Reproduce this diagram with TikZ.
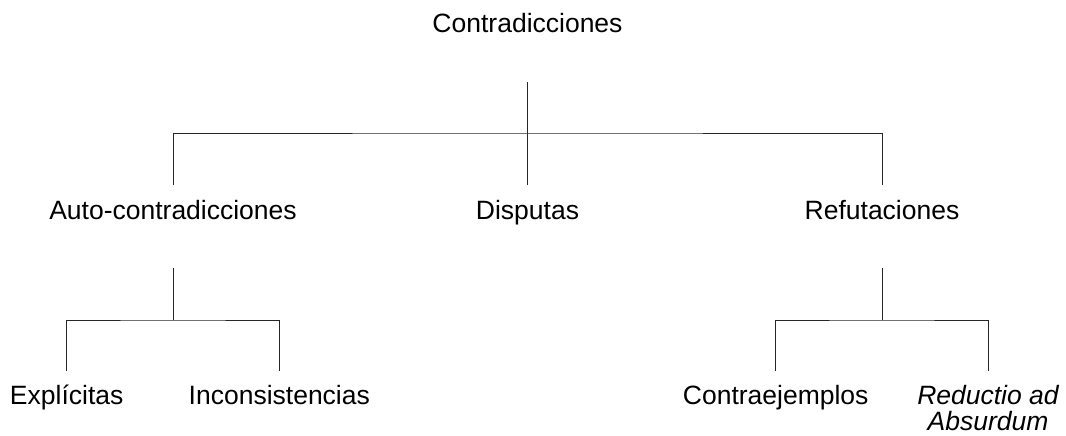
\documentclass[tikz,border=0pt]{standalone}
\usepackage{fontspec}
\setmainfont{Liberation Sans}
\begin{document}
\begin{tikzpicture}[x=1pt,y=-1pt,
  lbl/.style={anchor=base,inner sep=0pt,font=\fontsize{26.5}{30}\selectfont},
  conn/.style={draw=black!85,line width=1pt}]
\useasboundingbox (0,0) rectangle (1066,436);
% nodes
\node[lbl] (root) at (527.5,33) {Contradicciones};
\node[lbl] (auto) at (173,219) {Auto-contradicciones};
\node[lbl] (disp) at (527.5,219) {Disputas};
\node[lbl] (ref) at (882,219) {Refutaciones};
\node[lbl] (expl) at (66.7,404.5) {Explícitas};
\node[lbl] (inco) at (279.3,404.5) {Inconsistencias};
\node[lbl] (contra) at (775.7,404.5) {Contraejemplos};
\node[lbl] (red) at (988,404.5) {\itshape Reductio ad};
\node[lbl] (red2) at (988,430) {\itshape Absurdum};
% junction coordinates
\coordinate (rootdn) at (527.5,82.5);
\coordinate (j1) at (527.5,133);
\coordinate (autoup) at (173,185);
\coordinate (dispup) at (527.5,185);
\coordinate (refup) at (882,185);
\coordinate (autodn) at (173,268);
\coordinate (j2) at (173,320);
\coordinate (explup) at (66.7,371);
\coordinate (incoup) at (279.3,371);
\coordinate (refdn) at (882,268);
\coordinate (j3) at (882,320);
\coordinate (contraup) at (775.7,371);
\coordinate (redup) at (988,371);
% connectors
\draw[conn] (rootdn) -- (j1);
\draw[conn] (autoup) |- (j1) -| (refup);
\draw[conn] (j1) -- (dispup);
\draw[conn] (autodn) -- (j2);
\draw[conn] (explup) |- (j2) -| (incoup);
\draw[conn] (refdn) -- (j3);
\draw[conn] (contraup) |- (j3) -| (redup);
\end{tikzpicture}
\end{document}
